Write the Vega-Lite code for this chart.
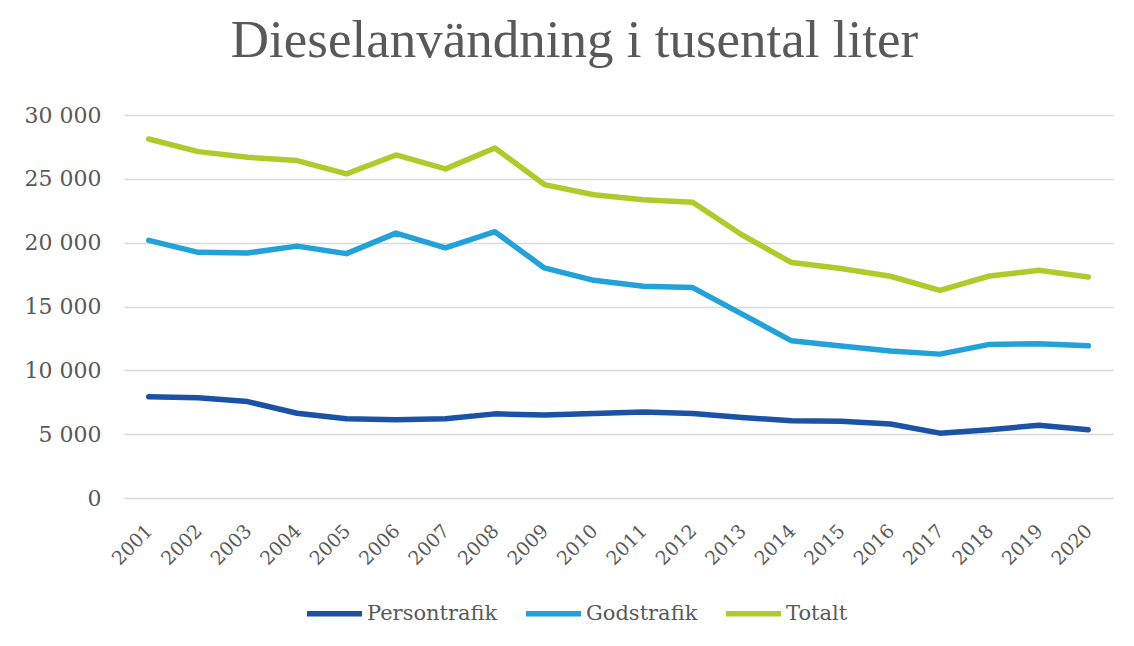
{
  "$schema": "https://vega.github.io/schema/vega-lite/v6.json",
  "width": 989,
  "height": 383,
  "autosize": "none",
  "padding": {"left": 124, "top": 115, "right": 21, "bottom": 148},
  "background": "white",
  "title": {
    "text": "Dieselanvändning i tusental liter",
    "font": "Liberation Serif",
    "fontSize": 53,
    "fontWeight": "normal",
    "color": "#595959",
    "anchor": "middle",
    "dx": -44,
    "dy": 48,
    "offset": 42,
    "baseline": "alphabetic"
  },
  "config": {
    "locale": {"number": {"decimal": ",", "thousands": " ", "grouping": [3], "currency": ["", " kr"]}},
    "view": {"stroke": null}
  },
  "data": {
    "values": [
      {"year": "2001", "series": "Persontrafik", "value": 7940},
      {"year": "2002", "series": "Persontrafik", "value": 7860},
      {"year": "2003", "series": "Persontrafik", "value": 7550},
      {"year": "2004", "series": "Persontrafik", "value": 6640},
      {"year": "2005", "series": "Persontrafik", "value": 6200},
      {"year": "2006", "series": "Persontrafik", "value": 6120},
      {"year": "2007", "series": "Persontrafik", "value": 6200},
      {"year": "2008", "series": "Persontrafik", "value": 6590},
      {"year": "2009", "series": "Persontrafik", "value": 6510},
      {"year": "2010", "series": "Persontrafik", "value": 6610},
      {"year": "2011", "series": "Persontrafik", "value": 6740},
      {"year": "2012", "series": "Persontrafik", "value": 6620},
      {"year": "2013", "series": "Persontrafik", "value": 6300},
      {"year": "2014", "series": "Persontrafik", "value": 6060},
      {"year": "2015", "series": "Persontrafik", "value": 6010},
      {"year": "2016", "series": "Persontrafik", "value": 5800},
      {"year": "2017", "series": "Persontrafik", "value": 5080},
      {"year": "2018", "series": "Persontrafik", "value": 5340},
      {"year": "2019", "series": "Persontrafik", "value": 5700},
      {"year": "2020", "series": "Persontrafik", "value": 5340},
      {"year": "2001", "series": "Godstrafik", "value": 20180},
      {"year": "2002", "series": "Godstrafik", "value": 19240},
      {"year": "2003", "series": "Godstrafik", "value": 19190},
      {"year": "2004", "series": "Godstrafik", "value": 19730},
      {"year": "2005", "series": "Godstrafik", "value": 19140},
      {"year": "2006", "series": "Godstrafik", "value": 20750},
      {"year": "2007", "series": "Godstrafik", "value": 19600},
      {"year": "2008", "series": "Godstrafik", "value": 20860},
      {"year": "2009", "series": "Godstrafik", "value": 18020},
      {"year": "2010", "series": "Godstrafik", "value": 17050},
      {"year": "2011", "series": "Godstrafik", "value": 16590},
      {"year": "2012", "series": "Godstrafik", "value": 16480},
      {"year": "2013", "series": "Godstrafik", "value": 14400},
      {"year": "2014", "series": "Godstrafik", "value": 12310},
      {"year": "2015", "series": "Godstrafik", "value": 11900},
      {"year": "2016", "series": "Godstrafik", "value": 11510},
      {"year": "2017", "series": "Godstrafik", "value": 11270},
      {"year": "2018", "series": "Godstrafik", "value": 12030},
      {"year": "2019", "series": "Godstrafik", "value": 12080},
      {"year": "2020", "series": "Godstrafik", "value": 11920},
      {"year": "2001", "series": "Totalt", "value": 28120},
      {"year": "2002", "series": "Totalt", "value": 27130},
      {"year": "2003", "series": "Totalt", "value": 26690},
      {"year": "2004", "series": "Totalt", "value": 26430},
      {"year": "2005", "series": "Totalt", "value": 25390},
      {"year": "2006", "series": "Totalt", "value": 26870},
      {"year": "2007", "series": "Totalt", "value": 25780},
      {"year": "2008", "series": "Totalt", "value": 27420},
      {"year": "2009", "series": "Totalt", "value": 24550},
      {"year": "2010", "series": "Totalt", "value": 23750},
      {"year": "2011", "series": "Totalt", "value": 23360},
      {"year": "2012", "series": "Totalt", "value": 23170},
      {"year": "2013", "series": "Totalt", "value": 20600},
      {"year": "2014", "series": "Totalt", "value": 18440},
      {"year": "2015", "series": "Totalt", "value": 17970},
      {"year": "2016", "series": "Totalt", "value": 17370},
      {"year": "2017", "series": "Totalt", "value": 16270},
      {"year": "2018", "series": "Totalt", "value": 17390},
      {"year": "2019", "series": "Totalt", "value": 17840},
      {"year": "2020", "series": "Totalt", "value": 17310}
    ]
  },
  "mark": {"type": "line", "strokeWidth": 5.5, "strokeCap": "round", "strokeJoin": "round"},
  "encoding": {
    "x": {
      "field": "year",
      "type": "ordinal",
      "scale": {"type": "point", "padding": 0.5},
      "axis": {
        "title": null,
        "labelAngle": -45,
        "labelFont": "DejaVu Serif",
        "labelFontSize": 19,
        "labelColor": "#595959",
        "labelPadding": 23,
        "labelOffset": -6,
        "ticks": false,
        "domain": false,
        "grid": false
      }
    },
    "y": {
      "field": "value",
      "type": "quantitative",
      "scale": {"domain": [0, 30000], "nice": false},
      "axis": {
        "title": null,
        "values": [0, 5000, 10000, 15000, 20000, 25000, 30000],
        "format": ",d",
        "labelFont": "DejaVu Serif",
        "labelFontSize": 22,
        "labelColor": "#595959",
        "labelPadding": 23,
        "ticks": false,
        "domain": false,
        "grid": true,
        "gridColor": "#d9d9d9",
        "gridWidth": 1.5
      }
    },
    "color": {
      "field": "series",
      "type": "nominal",
      "sort": ["Persontrafik", "Godstrafik", "Totalt"],
      "scale": {"domain": ["Persontrafik", "Godstrafik", "Totalt"], "range": ["#1B52A5", "#23A2DA", "#B0CA2B"]},
      "legend": {
        "title": null,
        "orient": "none",
        "direction": "horizontal",
        "legendX": 180,
        "legendY": 468,
        "symbolType": "stroke",
        "symbolSize": 3025,
        "symbolStrokeWidth": 5.5,
        "labelFont": "DejaVu Serif",
        "labelFontSize": 21,
        "labelColor": "#595959",
        "labelOffset": 2,
        "columnPadding": 17
      }
    }
  }
}
